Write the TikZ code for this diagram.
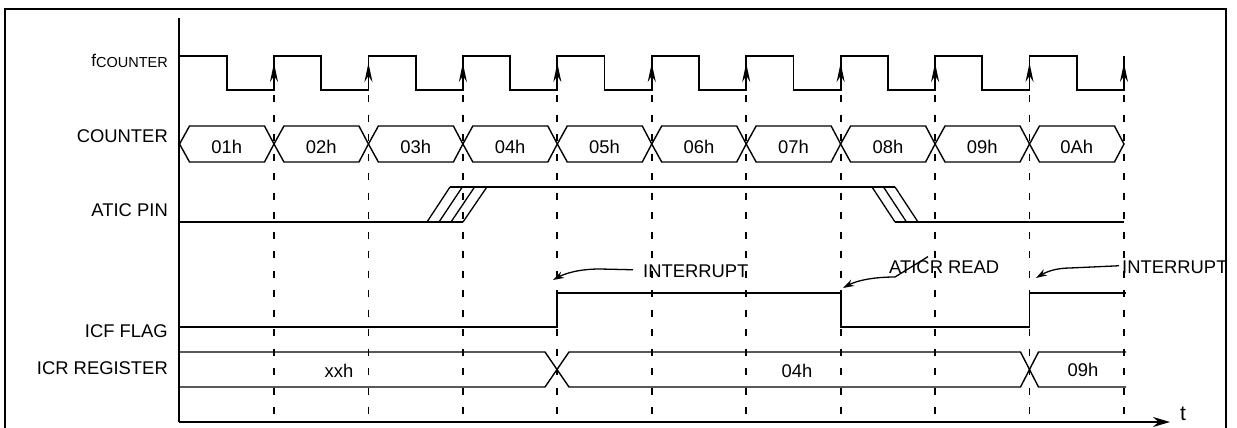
\documentclass[tikz,border=0pt]{standalone}
\usepackage{fontspec}
\setmainfont{Liberation Sans}
\usetikzlibrary{arrows.meta,calc}
\begin{document}
\begin{tikzpicture}[x=1pt,y=-1pt,
  sig/.style={line width=1.8pt, line join=miter},
  bus/.style={line width=1.4pt},
  hatch/.style={line width=1.3pt},
  gridline/.style={line width=1.8pt, dash pattern=on 7pt off 12.5pt},
  lbl/.style={font=\fontsize{18.4}{20}\selectfont, anchor=base east, inner sep=0pt},
  val/.style={font=\fontsize{18.4}{20}\selectfont, anchor=base, inner sep=0pt},
  note/.style={font=\fontsize{18.4}{20}\selectfont, anchor=base west, inner sep=0pt},
  callout/.style={line width=1.3pt, -{Stealth[length=11pt,width=7pt]}},
  clkarrow/.style={line width=1.8pt, -{Stealth[length=19pt,width=8pt]}},
]
\useasboundingbox (0,0) rectangle (1237,428);
% frame
\draw[line width=2pt] (5,440) -- (5,9) -- (1226,9) -- (1226,440);
% axes
\draw[line width=1.8pt] (179,18) -- (179,422);
\draw[line width=1.8pt, -{Stealth[length=17pt,width=10pt]}] (179,422) -- (1170,422);
\node[note, font=\fontsize{21}{22}\selectfont] (tlbl) at (1180,420) {t};

% row labels
\node[anchor=base east, inner sep=0pt] (lblf) at (168,66.5)
  {\fontsize{17}{18}\selectfont f\raisebox{-1.5pt}{\fontsize{14.5}{15}\selectfont COUNTER}};
\node[lbl] (lblc) at (168,142) {COUNTER};
\node[lbl] (lbla) at (168,216) {ATIC PIN};
\node[lbl] (lbli) at (168,337) {ICF FLAG};
\node[lbl] (lblr) at (168,374) {ICR REGISTER};

% dashed grid lines at rising edges
\foreach \k in {0,...,9}
  \draw[gridline] ({274+94.44*\k},95) -- ({274+94.44*\k},422);

% clock
\draw[sig] (179,56) \foreach \k in {0,...,9} {
  -- ({226.8+94.44*\k},56) -- ({226.8+94.44*\k},90)
  -- ({274+94.44*\k},90) -- ({274+94.44*\k},56) };
\foreach \k in {0,...,9}
  \draw[clkarrow] ({274+94.44*\k},90) -- ({274+94.44*\k},63);

% counter bus
\foreach \k/\v in {0/01h,1/02h,2/03h,3/04h,4/05h,5/06h,6/07h,7/08h,8/09h,9/0Ah} {
  \draw[bus, line join=miter] ({179.56+94.44*\k},144) -- ({189.5+94.44*\k},126)
    -- ({264.5+94.44*\k},126) -- ({274+94.44*\k},144)
    -- ({264.5+94.44*\k},162) -- ({189.5+94.44*\k},162) -- cycle;
  \node[val] (cnt\k) at ({226.8+94.44*\k},153) {\v};
}

% ATIC PIN
\draw[sig] (179,222) -- (463,222);
\foreach \i in {0,...,3}
  \draw[hatch] ({427+12*\i},222) -- ({450+12.3*\i},187);
\draw[sig] (450,187) -- (862,187);
\draw[hatch] (862,187) -- (895,187);
\foreach \i in {0,...,2}
  \draw[hatch] ({872+11.5*\i},187) -- ({895+11.5*\i},222);
\draw[sig] (895,222) -- (1124,222);

% ICF FLAG
\draw[sig] (179,327) -- (557.3,327) -- (557.3,293) -- (840.6,293)
  -- (840.6,327) -- (1029.5,327) -- (1029.5,293) -- (1126,293);

% ICR REGISTER
\draw[bus] (179,352) -- (545,352) -- (569,387) -- (1020.5,387) -- (1038.5,352) -- (1126,352);
\draw[bus] (179,387) -- (545,387) -- (569,352) -- (1020.5,352) -- (1038.5,387) -- (1126,387);
\node[val] (xxh) at (339,377) {xxh};
\node[val] (r04) at (797,377) {04h};
\node[val] (r09) at (1083,376) {09h};

% annotations
\node[note] (int1) at (643,277) {INTERRUPT};
\node[note] (rd) at (889,273) {ATICR READ};
\node[note] (int2) at (1122,273) {INTERRUPT};
\coordinate (tip1) at (553,280);
\coordinate (tip2) at (843,288);
\coordinate (tip3) at (1036,278);
\draw[callout] ($(int1.west)+(-10,-1)$) -- (600,269) .. controls (580,269) and (566,273) .. (tip1);
\draw[callout] ($(rd.west)+(39,-10)$) -- (895,277) .. controls (872,277) and (856,281) .. (tip2);
\draw[callout] ($(int2.west)+(-3,-1)$) -- (1070,268) .. controls (1056,268) and (1046,272) .. (tip3);
\end{tikzpicture}
\end{document}
